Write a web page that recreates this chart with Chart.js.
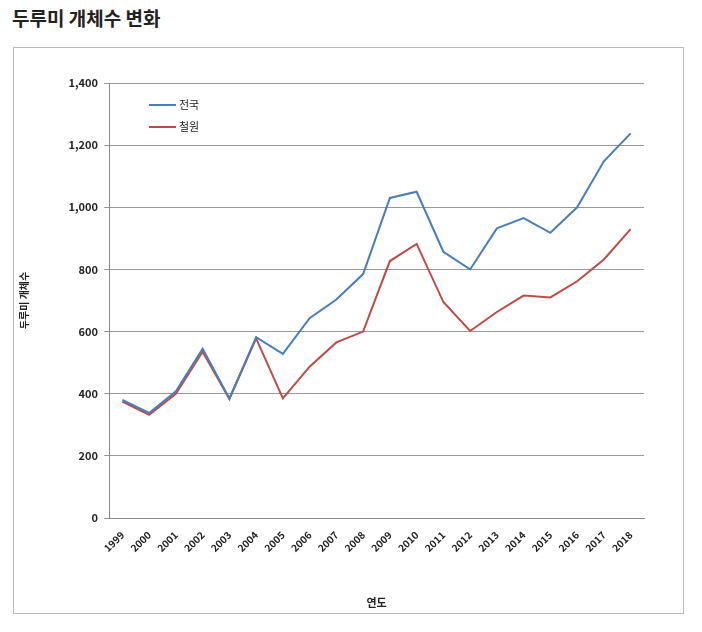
<!DOCTYPE html>
<html><head><meta charset="utf-8">
<script src="https://cdn.jsdelivr.net/npm/chart.js@4"></script>
<style>
body{margin:0;background:#fff;font-family:"Noto Sans CJK KR",sans-serif;}
#title{position:absolute;left:12px;top:4px;font-size:19px;font-weight:bold;color:#222;}
#box{position:absolute;left:13px;top:47px;width:669px;height:565px;border:1px solid #bbb;}
canvas{position:absolute;left:0;top:0;}
</style></head><body>
<div id="title">두루미 개체수 변화</div>
<div id="box"><canvas id="c" width="669" height="565"></canvas></div>
<script>
const years=['1999','2000','2001','2002','2003','2004','2005','2006','2007','2008','2009','2010','2011','2012','2013','2014','2015','2016','2017','2018'];
const national=[380,338,408,545,385,582,528,643,703,785,1030,1050,857,800,932,965,918,1000,1148,1238];
const cheorwon=[375,332,400,535,383,578,385,487,565,600,827,882,695,602,663,716,710,762,832,930];
const seriesNames=['전국','철원'];
const colors=['#4a7ebb','#be4b48'];
const F='"Noto Sans CJK KR",sans-serif';
const legendPlugin={id:'lg',afterDraw(ch){const c=ch.ctx,a=ch.chartArea;c.save();c.font='11px '+F;c.fillStyle='#222';c.textBaseline='middle';
ch.data.datasets.forEach((d,i)=>{const y=a.top+22+i*22;c.strokeStyle=d.borderColor;c.lineWidth=2;c.beginPath();c.moveTo(a.left+40,y);c.lineTo(a.left+67,y);c.stroke();c.fillText(d.label,a.left+70,y);});c.restore();}};
new Chart(document.getElementById('c'),{type:'line',
data:{labels:years,datasets:[
{label:seriesNames[0],data:national,borderColor:colors[0],borderWidth:2,pointRadius:0,tension:0},
{label:seriesNames[1],data:cheorwon,borderColor:colors[1],borderWidth:2,pointRadius:0,tension:0}]},
options:{responsive:false,animation:false,devicePixelRatio:1,
layout:{padding:{top:35,right:39,bottom:0,left:0}},
plugins:{legend:{display:false},tooltip:{enabled:false}},
scales:{
x:{offset:true,grid:{display:false},border:{color:'#888'},
ticks:{color:'#222',font:{family:F,size:10,weight:'bold'},maxRotation:45,minRotation:45,autoSkip:false},
title:{display:true,text:'연도',color:'#222',font:{family:F,size:11,weight:'bold'},padding:{top:14}},
afterFit(s){s.height=95;}},
y:{min:0,max:1400,ticks:{stepSize:200,color:'#222',font:{family:F,size:11,weight:'bold'},padding:6},
grid:{color:'#999',tickLength:5},border:{color:'#888'},
title:{display:true,text:'두루미 개체수',color:'#222',font:{family:F,size:10,weight:'bold'},padding:{bottom:14}},
afterFit(s){s.width=95;}}}},
plugins:[legendPlugin]});
</script>
</body></html>
